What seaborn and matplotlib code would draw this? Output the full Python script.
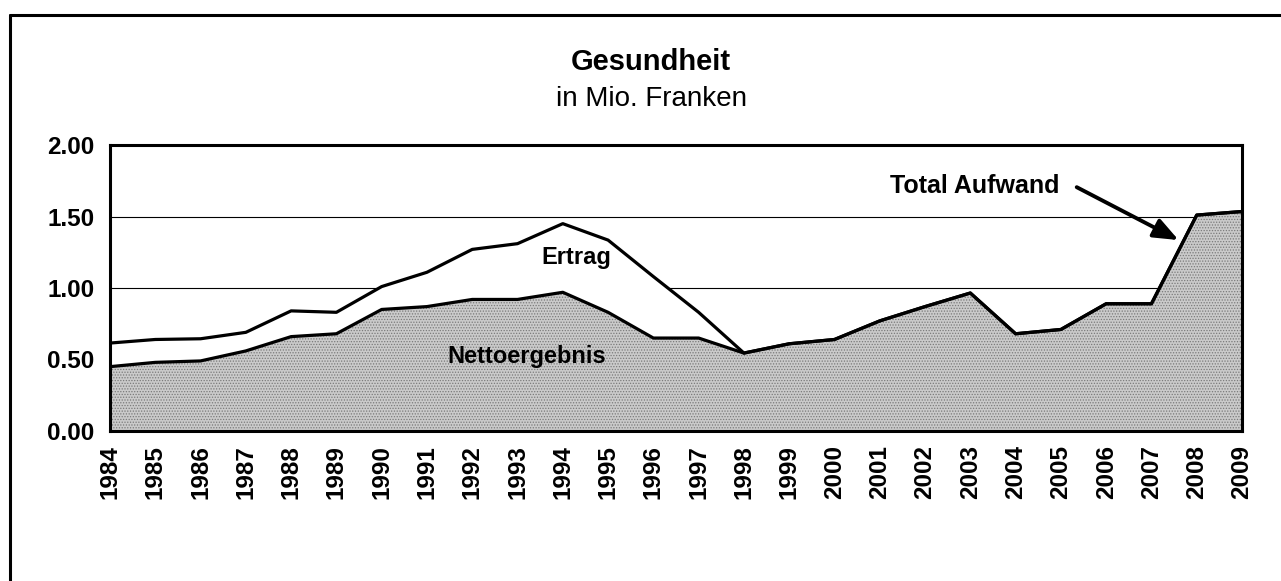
import matplotlib
matplotlib.use("Agg")
import matplotlib.pyplot as plt
import seaborn as sns
import pandas as pd
import numpy as np
from matplotlib.lines import Line2D

years = list(range(1984, 2010))
netto = [0.45, 0.48, 0.49, 0.56, 0.66, 0.68, 0.85, 0.87, 0.92, 0.92, 0.97, 0.83, 0.65,
         0.65, 0.545, 0.61, 0.64, 0.77, 0.87, 0.965, 0.68, 0.71, 0.89, 0.89, 1.51, 1.535]
total = [0.615, 0.64, 0.645, 0.69, 0.84, 0.83, 1.01, 1.11, 1.27, 1.31, 1.45, 1.335, 1.08,
         0.83, 0.545, 0.61, 0.64, 0.77, 0.87, 0.965, 0.68, 0.71, 0.89, 0.89, 1.51, 1.535]
y_ticks = [0.0, 0.5, 1.0, 1.5, 2.0]

title = "Gesundheit"
subtitle = "in Mio. Franken"
label_ertrag = "Ertrag"
label_netto = "Nettoergebnis"
label_total = "Total Aufwand"

df = pd.DataFrame({"year": years, "netto": netto, "total": total})

sns.set_style("white")
plt.rcParams["font.family"] = ["Liberation Sans", "DejaVu Sans"]
plt.rcParams["text.color"] = "black"
plt.rcParams["xtick.color"] = "black"
plt.rcParams["ytick.color"] = "black"
plt.rcParams["hatch.linewidth"] = 0.6
plt.rcParams["hatch.color"] = "#7a7a7a"

fig = plt.figure(figsize=(12.81, 5.81), dpi=100)
ax = fig.add_axes([110 / 1281, 1 - 431 / 581, (1242 - 110) / 1281, (431 - 145) / 581])

# gridlines
for yv in y_ticks[1:-1]:
    ax.axhline(yv, color="black", lw=0.8, zorder=1)

# areas
ax.fill_between(df["year"], 0, df["netto"], facecolor="#cacaca", hatch="......",
                edgecolor="#7a7a7a", linewidth=0, zorder=2)
ax.fill_between(df["year"], df["netto"], df["total"], facecolor="white", linewidth=0, zorder=2)

sns.lineplot(data=df, x="year", y="total", ax=ax, color="black", lw=2.3, zorder=4)
sns.lineplot(data=df, x="year", y="netto", ax=ax, color="black", lw=2.3, zorder=4)

ax.set_xlim(1984, 2009)
ax.set_ylim(0, 2.0)
ax.set_xticks(years)
ax.set_xticklabels([str(y) for y in years], rotation=90, fontsize=17.5, fontweight="bold")
ax.set_yticks(y_ticks)
ax.set_yticklabels([f"{v:.2f}" for v in y_ticks], fontsize=17.5, fontweight="bold")
ax.set_xlabel("")
ax.set_ylabel("")
ax.tick_params(axis="both", direction="out", length=6, width=1, color="black", pad=5)
ax.tick_params(axis="x", pad=4)
for s in ax.spines.values():
    s.set_visible(True)
    s.set_color("black")
    s.set_linewidth(2.2)
    s.set_zorder(5)

ax.text(1994.3, 1.21, label_ertrag, fontsize=17, fontweight="bold", ha="center", va="center", zorder=6)
ax.text(1993.2, 0.52, label_netto, fontsize=17, fontweight="bold", ha="center", va="center", zorder=6)
ax.text(2003.1, 1.71, label_total, fontsize=18, fontweight="bold", ha="center", va="center", zorder=6)
ax.annotate("", xy=(2007.6, 1.335), xytext=(2005.35, 1.705), zorder=6,
            arrowprops=dict(arrowstyle="-|>,head_length=1.5,head_width=0.6", color="black", lw=2.8,
                            shrinkA=0, shrinkB=0))

fig.text(651 / 1281, 1 - 62 / 581, title, fontsize=21, fontweight="bold", ha="center", va="center")
fig.text(651 / 1281, 1 - 99 / 581, subtitle, fontsize=20, ha="center", va="center")

# outer frame (left and top)
fig.add_artist(Line2D([10 / 1281, 10 / 1281], [0, 1 - 15 / 581], transform=fig.transFigure, color="black", lw=2.2))
fig.add_artist(Line2D([10 / 1281, 1], [1 - 15 / 581, 1 - 15 / 581], transform=fig.transFigure, color="black", lw=2.2))

fig.savefig("out.png", dpi=100)
